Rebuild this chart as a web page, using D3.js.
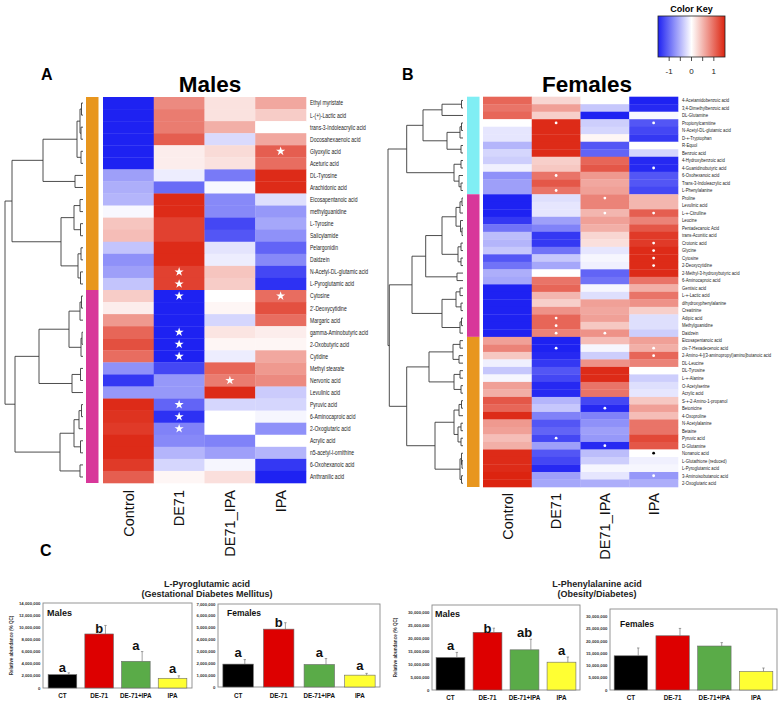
<!DOCTYPE html>
<html><head><meta charset="utf-8">
<script src="https://cdn.jsdelivr.net/npm/d3@7"></script>
<style>
body{margin:0;background:#fff}
svg{display:block}
text{font-family:"Liberation Sans",Arial,sans-serif}
</style>
</head><body>
<svg id="chart" width="780" height="705"></svg>
<script>
// ---------------- DATA ----------------
const heatCols = ["Control","DE71","DE71_IPA","IPA"];

const maleRows = ["Ethyl myristate","L-(+)-Lactic acid","trans-3-Indoleacrylic acid","Docosahexaenoic acid","Glyoxylic acid","Aceturic acid","DL-Tyrosine","Arachidonic acid","Eicosapentanoic acid","methylguanidine","L-Tyrosine","Salicylamide","Pelargonidin","Daidzein","N-Acetyl-DL-glutamic acid","L-Pyroglutamic acid","Cytosine","2'-Deoxycytidine","Margaric acid","gamma-Aminobutyric acid","2-Oxobutyric acid","Cytidine","Methyl stearate","Nervonic acid","Levulinic acid","Pyruvic acid","6-Aminocaproic acid","2-Oxoglutaric acid","Acrylic acid","n5-acetyl-l-ornithine","6-Oxohexanoic acid","Anthranilic acid"];

// z-scores per row: Control, DE71, DE71_IPA, IPA
const maleValues = [
 [-1.5, 0.8, 0.2, 0.6],[-1.5, 0.9, 0.2, 0.35],[-1.5, 0.9, 0.55, 0.0],[-1.5, 1.1, -0.25, 0.6],
 [-1.5, 0.12, 0.25, 1.1],[-1.5, 0.12, 0.2, 1.0],[-0.65, -0.12, -0.9, 1.45],[-0.55, -1.0, -0.05, 1.45],
 [-0.5, 1.45, -0.8, -0.22],[-0.05, 1.45, -0.8, -0.7],[0.4, 1.3, -1.25, -0.6],[0.45, 1.3, -1.15, -0.75],
 [-0.4, 1.45, -0.18, -1.05],[-0.75, 1.45, -0.12, -0.8],[-0.65, 1.3, 0.4, -1.25],[-0.4, 1.3, 0.35, -1.4],
 [0.35, -1.5, 0.0, 1.0],[0.12, -1.5, 0.06, 1.2],[0.7, -1.5, -0.28, 1.0],[1.05, -1.5, 0.18, 0.12],
 [1.2, -1.5, 0.06, 0.06],[1.0, -1.5, -0.12, 0.6],[-0.75, -1.25, 1.05, 0.7],[-1.35, -0.7, 0.9, 0.8],
 [-0.7, -0.7, 1.45, -0.35],[1.45, -1.05, -0.28, -0.28],[1.4, -1.4, 0.0, -0.06],[1.35, -0.85, 0.0, -0.75],
 [1.45, -0.8, -0.85, 0.0],[1.45, -0.5, -0.65, -0.5],[1.35, -0.28, -0.06, -1.35],[1.1, 0.06, 0.22, -1.5]
];
const maleStars = [[4,3],[14,1],[15,1],[16,1],[16,3],[19,1],[20,1],[21,1],[23,2],[25,1],[26,1],[27,1]];
const maleGroupSizes = [16,16];
const maleGroupColors = ["#e8961e","#d8379a"];
// dendrogram: [height, left, right]; leaves are row indices
const maleTree = [78,
  [71,
    [40, [6,[3,[1.5,0,1],[2,2,3]],[2,4,5]], [8,6,7]],
    [22, [9,[3,8,9],[2.5,10,11]], [5,[2,12,13],[2.5,14,15]]]],
  [68,
    [44, [14,[3,[1.5,16,17],18],[2,[1,19,20],21]], [11,[2.5,22,23],24]],
    [23, [9,[4,[1.5,25,26],27],[2.5,28,29]], [3,30,31]]]];

const femaleRows = ["4-Acetamidobenzoic acid","3,4-Dimethylbenzoic acid","DL-Glutamine","Propionylcarnitine","N-Acetyl-DL-glutamic acid","D-+-Tryptophan","R-Equol","Benzoic acid","4-Hydroxybenzoic acid","4-Guanidinobutyric acid","6-Oxohexanoic acid","Trans-3-Indoleacrylic acid","L-Phenylalanine","Proline","Levulinic acid","L-+-Citrulline","Leucine","Pentadecanoic Acid","trans-Aconitic acid","Crotonic acid","Glycine","Cytosine","2-Deoxycytidine","2-Methyl-3-hydroxybutyric acid","6-Aminocaproic acid","Gentisic acid","L-+-Lactic acid","dihydroxyphenylalanine","Creatinine","Adipic acid","Methylguanidine","Daidzein","Eicosapentanoic acid","cis-7-Hexadecenoic acid","2-Amino-4-[(3-aminopropyl)amino]butanoic acid","DL-Leucine","DL-Tyrosine","L-+-Alanine","O-Acetylserine","Acrylic acid","S-+-2-Amino-1-propanol","Betonicine","4-Oxoproline","N-Acetylalanine","Betaine","Pyruvic acid","D-Glutamine","Nonanoic acid","L-Glutathione (reduced)","L-Pyroglutamic acid","3-Aminoisobutanoic acid","2-Oxoglutaric acid"];

const femaleValues = [
 [1.05, 0.28, 0.0, -1.5],[0.95, 0.65, -0.38, -1.45],[1.05, 0.33, -1.5, -0.05],[0.0, 1.45, -0.33, -1.15],
 [-0.17, 1.45, -0.28, -1.25],[-0.17, 1.45, 0.06, -1.35],[-0.5, 1.45, -1.15, 0.0],[-0.28, 1.45, -1.05, -0.28],
 [-0.33, 0.33, 1.05, -1.45],[-0.1, 0.38, 1.15, -1.45],[-0.75, 0.95, 0.7, -1.15],[-0.65, 1.15, 0.6, -1.15],
 [-0.65, 0.95, 0.65, -1.25],[-1.5, -0.22, 0.85, 0.5],[-1.5, -0.17, 0.85, 0.5],[-1.5, -0.17, 0.5, 1.1],
 [-1.35, -0.65, 0.65, 0.85],[-0.95, -0.85, 0.55, 1.15],[-0.45, -1.35, 0.28, 1.35],[-0.5, -1.35, 0.22, 1.35],
 [-0.38, -0.95, -0.17, 1.45],[-1.15, -0.38, -0.06, 1.45],[-0.95, -0.6, -0.1, 1.45],[-0.55, 0.0, -1.05, 1.45],
 [-0.6, 0.95, -0.95, 0.95],[-1.5, 1.05, -0.06, 0.55],[-1.5, 0.5, -0.22, 0.95],[-1.5, 0.33, 0.65, 0.75],
 [-1.5, 0.75, 0.6, 0.33],[-1.5, 1.05, 0.65, -0.22],[-1.5, 1.05, 0.38, -0.22],[-1.5, 0.85, 0.75, -0.33],
 [0.65, -1.5, 0.45, 0.65],[0.85, -1.5, -0.06, 0.55],[0.38, -1.45, -0.33, 1.05],[-0.1, -1.35, 0.75, 0.85],
 [-0.38, -1.15, 1.45, 0.0],[-0.06, -1.25, 1.45, -0.33],[0.65, -1.45, 0.95, -0.22],[0.55, -1.45, 0.95, -0.17],
 [1.15, -0.5, -1.25, 0.38],[1.05, -0.38, -1.45, 0.65],[1.45, -0.85, -0.85, 0.45],[0.7, -1.15, -0.75, 0.95],
 [0.65, -1.05, -0.65, 0.95],[0.45, -1.25, -0.7, 1.25],[0.55, -0.65, -1.45, 1.15],[1.45, -1.15, -0.45, 0.0],
 [1.45, -1.25, -0.33, -0.1],[1.45, -1.45, -0.06, -0.06],[1.5, -0.65, -0.17, -0.7],[1.5, -0.6, -0.55, -0.55]
];
const femaleDots = [[3,1,"w"],[3,3,"w"],[9,3,"w"],[10,1,"w"],[12,1,"w"],[13,2,"w"],[15,2,"w"],[15,3,"w"],[19,3,"w"],[20,3,"w"],[21,3,"w"],[22,3,"w"],[29,1,"w"],[30,1,"w"],[31,1,"w"],[31,2,"w"],[33,1,"w"],[33,3,"w"],[34,3,"w"],[41,2,"w"],[45,1,"w"],[46,2,"w"],[47,3,"k"],[50,3,"w"]];
const femaleGroupSizes = [13,19,20];
const femaleGroupColors = ["#80eef4","#d8379a","#e8961e"];
const femaleTree = [75,
  [56.3,
    [40, [21,[1.5,0,1],2], [16,[3,[1.5,3,4],5],[2,6,7]]],
    [9,[2,8,9],[4,10,[2,11,12]]]],
  [73.7,
    [51,
      [37.3,
        [21, [7,[3,[1,13,14],15],[2.5,16,[1,17,18]]], [5,[2,19,20],[2,21,22]]],
        [6,23,24]],
      [21, [7,[3,25,26],[2,27,28]], [3,[1.5,29,30],31]]],
    [56.3,
      [34, [10,[3,32,33],[4,34,35]], [9,[3,36,37],[2,38,39]]],
      [28, [9,[4,[1.5,40,41],42],[5,[2,43,44],[2,45,46]]], [3,[1.5,47,[1,48,49]],[1.5,50,51]]]]]];

const keyTicks = [-1,-0.5,0,0.5,1];
const keyLabels = [-1,0,1];

// Panel C bar data
const barGroups = ["CT","DE-71","DE-71+IPA","IPA"];
const barColors = ["#000000","#dd0000","#5aab48","#ffff33"];
const pyroMaleMean = [2200000, 8900000, 4400000, 1600000];
const pyroMaleErr  = [300000, 1400000, 1600000, 400000];
const pyroMaleSig  = ["a","b","a","a"];
const pyroMaleSigAt = [2670000, 9140000, 6240000, 2410000];
const pyroFemaleMean = [1930000, 4880000, 1900000, 1000000];
const pyroFemaleErr  = [380000, 540000, 500000, 150000];
const pyroFemaleSig  = ["a","b","a","a"];
const pyroFemaleSigAt = [2490000, 5080000, 2490000, 1410000];
const pheMaleMean = [12600000, 22400000, 15600000, 10800000];
const pheMaleErr  = [2000000, 1600000, 4100000, 2000000];
const pheMaleSig  = ["a","b","ab","a"];
const pheMaleSigAt = [15500000, 22000000, 20700000, 13600000];
const pheFemaleMean = [14000000, 22200000, 18000000, 7600000];
const pheFemaleErr  = [3200000, 3000000, 1400000, 1400000];

// ---------------- DRAW ----------------
const svg = d3.select("#chart");
const color = d3.scaleLinear().domain([-1.5,0,1.5]).range(["#1e22f2","#ffffff","#dc2410"]).clamp(true);

function heatmap(opt){
  const g = svg.append("g");
  const x = d3.scaleBand().domain(heatCols).range([opt.x0, opt.x1]);
  const y = d3.scaleBand().domain(d3.range(opt.rows.length)).range([opt.y0, opt.y1]);
  // cells
  opt.values.forEach((row,i)=>{
    g.selectAll(null).data(row).join("rect")
      .attr("x",(d,j)=>x(heatCols[j])).attr("y",y(i))
      .attr("width",x.bandwidth()+0.3).attr("height",y.bandwidth()+0.3)
      .attr("fill",d=>color(d));
  });
  // side color bar
  let start = 0;
  opt.groupSizes.forEach((n,k)=>{
    g.append("rect").attr("x",opt.sideX).attr("width",opt.sideW)
      .attr("y",y(start)).attr("height",y.bandwidth()*n).attr("fill",opt.groupColors[k]);
    start += n;
  });
  // row labels
  const lg = g.append("g").attr("transform",`translate(${opt.labelX},0) scale(${opt.labelScale},1)`);
  lg.selectAll("text").data(opt.rows).join("text")
    .attr("x",0).attr("y",(d,i)=>y(i)+y.bandwidth()/2).attr("dy","0.35em")
    .attr("font-size",opt.labelSize).attr("fill","#222").text(d=>d);
  // column labels
  g.selectAll(".cl").data(heatCols).join("text")
    .attr("transform",d=>`translate(${x(d)+x.bandwidth()/2},${opt.colLabelY}) rotate(-90)`)
    .attr("text-anchor","end").attr("dy","0.36em").attr("font-size",14.5).attr("fill","#111").text(d=>d);
  // dendrogram
  const hx = d3.scaleLinear().domain([0,opt.treeMax]).range([opt.leafX,opt.rootX]);
  const p = d3.path();
  function rec(n){
    if(typeof n === "number") return {y:y(n)+y.bandwidth()/2, h:0};
    const a = rec(n[1]), b = rec(n[2]);
    const xx = hx(n[0]);
    p.moveTo(hx(a.h),a.y); p.lineTo(xx,a.y); p.lineTo(xx,b.y); p.lineTo(hx(b.h),b.y);
    return {y:(a.y+b.y)/2, h:n[0]};
  }
  rec(opt.tree);
  g.append("path").attr("d",p.toString()).attr("fill","none").attr("stroke","#3a3a3a").attr("stroke-width",0.9);
  return {g,x,y};
}

const M = heatmap({rows:maleRows, values:maleValues, x0:103, x1:306, y0:97, y1:483,
  sideX:86, sideW:12.5, groupSizes:maleGroupSizes, groupColors:maleGroupColors,
  labelX:310, labelScale:0.72, labelSize:7, colLabelY:490,
  tree:maleTree, treeMax:78, leafX:83, rootX:5});
M.g.selectAll(".star").data(maleStars).join("path")
  .attr("d",d3.symbol(d3.symbolStar,26))
  .attr("transform",d=>`translate(${M.x(heatCols[d[1]])+M.x.bandwidth()/2},${M.y(d[0])+M.y.bandwidth()/2})`)
  .attr("fill","#fff");

const F = heatmap({rows:femaleRows, values:femaleValues, x0:483, x1:678, y0:96.7, y1:487,
  sideX:467, sideW:12.5, groupSizes:femaleGroupSizes, groupColors:femaleGroupColors,
  labelX:682, labelScale:0.8, labelSize:5.3, colLabelY:493,
  tree:femaleTree, treeMax:75, leafX:463, rootX:388});
F.g.selectAll(".dot").data(femaleDots).join("circle")
  .attr("cx",d=>F.x(heatCols[d[1]])+F.x.bandwidth()/2)
  .attr("cy",d=>F.y(d[0])+F.y.bandwidth()/2)
  .attr("r",1.4).attr("fill",d=>d[2]==="k"?"#000":"#fff");

// titles & panel letters
svg.append("text").attr("x",210).attr("y",92).attr("text-anchor","middle").attr("font-weight","bold").attr("font-size",22.5).text("Males");
svg.append("text").attr("x",587).attr("y",92).attr("text-anchor","middle").attr("font-weight","bold").attr("font-size",22.5).text("Females");
[["A",41,80],["B",402,80],["C",40,556]].forEach(d=>{
  svg.append("text").attr("x",d[1]).attr("y",d[2]).attr("font-weight","bold").attr("font-size",16).text(d[0]);
});

// color key
const kx = d3.scaleLinear().domain([-1.5,1.5]).range([658,725]);
const defs = svg.append("defs");
const grad = defs.append("linearGradient").attr("id","kg").attr("x1","0%").attr("x2","100%");
d3.range(-1.5,1.51,0.25).forEach(v=>{
  grad.append("stop").attr("offset",((v+1.5)/3*100)+"%").attr("stop-color",color(v));
});
svg.append("rect").attr("x",kx(-1.5)).attr("y",16).attr("width",kx(1.5)-kx(-1.5)).attr("height",41)
  .attr("fill","url(#kg)").attr("stroke","#222").attr("stroke-width",0.8);
svg.append("text").attr("x",(kx(-1.5)+kx(1.5))/2).attr("y",11.5).attr("text-anchor","middle")
  .attr("font-weight","bold").attr("font-size",9).text("Color Key");
svg.selectAll(".kt").data(keyTicks).join("line")
  .attr("x1",d=>kx(d)).attr("x2",d=>kx(d)).attr("y1",57).attr("y2",61).attr("stroke","#222").attr("stroke-width",0.8);
svg.selectAll(".kl").data(keyLabels).join("text")
  .attr("x",d=>kx(d)).attr("y",74).attr("text-anchor","middle").attr("font-size",8).attr("fill","#222")
  .text(d=>d===-1?"-1":String(d));

// panel C
function barChart(o){
  const g = svg.append("g");
  const x = d3.scaleBand().domain(barGroups).range([o.x0,o.x1]).paddingInner(o.pi).paddingOuter(o.po);
  const y = d3.scaleLinear().domain([0,o.max]).range([o.yb,o.yt]);
  g.append("rect").attr("x",o.x0).attr("y",o.yt).attr("width",o.x1-o.x0).attr("height",o.yb-o.yt)
    .attr("fill","none").attr("stroke","#8a8a8a").attr("stroke-width",0.9);
  const ticks = d3.range(0,o.tickMax+1,o.step);
  g.selectAll(".tl").data(ticks).join("text")
    .attr("x",o.x0-2.5).attr("y",d=>y(d)).attr("dy","0.35em").attr("text-anchor","end")
    .attr("font-size",4.3).attr("font-weight","bold").attr("fill","#333").text(d=>d3.format(",")(d));
  g.selectAll(".bar").data(o.mean).join("rect")
    .attr("x",(d,i)=>x(barGroups[i])).attr("width",x.bandwidth())
    .attr("y",d=>y(d)).attr("height",d=>y(0)-y(d))
    .attr("fill",(d,i)=>barColors[i]).attr("stroke","#6a6a6a").attr("stroke-width",0.6);
  const ex = i=>x(barGroups[i])+x.bandwidth()*0.72;
  g.selectAll(".err").data(o.err).join("path")
    .attr("d",(d,i)=>`M${ex(i)},${y(o.mean[i])}V${y(o.mean[i]+d)}M${ex(i)-1.2},${y(o.mean[i]+d)}H${ex(i)+1.2}`)
    .attr("stroke","#777").attr("stroke-width",0.7).attr("fill","none");
  if(o.sig){
    g.selectAll(".sig").data(o.sig).join("text")
      .attr("x",(d,i)=>x(barGroups[i])+x.bandwidth()/2).attr("y",(d,i)=>y(o.sigAt[i]))
      .attr("text-anchor","middle").attr("font-weight","bold").attr("font-size",13).attr("fill","#111").text(d=>d);
  }
  g.selectAll(".xl").data(barGroups).join("text")
    .attr("x",d=>x(d)+x.bandwidth()/2).attr("y",o.xlY).attr("text-anchor","middle")
    .attr("font-weight","bold").attr("font-size",6.3).attr("fill","#111").text(d=>d);
  g.append("text").attr("x",o.lx).attr("y",o.ly).attr("font-weight","bold").attr("font-size",o.lsize).attr("fill","#111").text(o.label);
  if(o.ytitle){
    g.append("text").attr("transform",`translate(${o.ytx},${(o.yt+o.yb)/2}) rotate(-90)`)
      .attr("text-anchor","middle").attr("font-size",4.6).attr("font-weight","bold").attr("fill","#333").text(o.ytitle);
  }
}
const yTitle = "Relative abundance (% QC)";
barChart({x0:43,x1:192,yt:603,yb:688,max:14000000,tickMax:14000000,step:2000000,pi:0.22,po:0.14,
  mean:pyroMaleMean,err:pyroMaleErr,sig:pyroMaleSig,sigAt:pyroMaleSigAt,xlY:698,label:"Males",lx:47,ly:616,lsize:9,ytitle:yTitle,ytx:13});
barChart({x0:218,x1:380,yt:604,yb:687,max:7000000,tickMax:7000000,step:1000000,pi:0.25,po:0.12,
  mean:pyroFemaleMean,err:pyroFemaleErr,sig:pyroFemaleSig,sigAt:pyroFemaleSigAt,xlY:698,label:"Females",lx:227,ly:616,lsize:8.5});
barChart({x0:432,x1:580,yt:605,yb:690,max:33000000,tickMax:30000000,step:5000000,pi:0.22,po:0.11,
  mean:pheMaleMean,err:pheMaleErr,sig:pheMaleSig,sigAt:pheMaleSigAt,xlY:700,label:"Males",lx:435,ly:617,lsize:9,ytitle:yTitle,ytx:397});
barChart({x0:610,x1:777,yt:609,yb:690,max:33150000,tickMax:30000000,step:5000000,pi:0.2,po:0.1,
  mean:pheFemaleMean,err:pheFemaleErr,xlY:700,label:"Females",lx:620,ly:627,lsize:8.5});

// panel C titles
[[207,"L-Pyroglutamic acid","(Gestational Diabetes Mellitus)"],[597,"L-Phenylalanine acid","(Obesity/Diabetes)"]].forEach(d=>{
  svg.append("text").attr("x",d[0]).attr("y",587).attr("text-anchor","middle").attr("font-weight","bold").attr("font-size",9).attr("fill","#222").text(d[1]);
  svg.append("text").attr("x",d[0]).attr("y",597).attr("text-anchor","middle").attr("font-weight","bold").attr("font-size",9).attr("fill","#222").text(d[2]);
});
</script>
</body></html>
